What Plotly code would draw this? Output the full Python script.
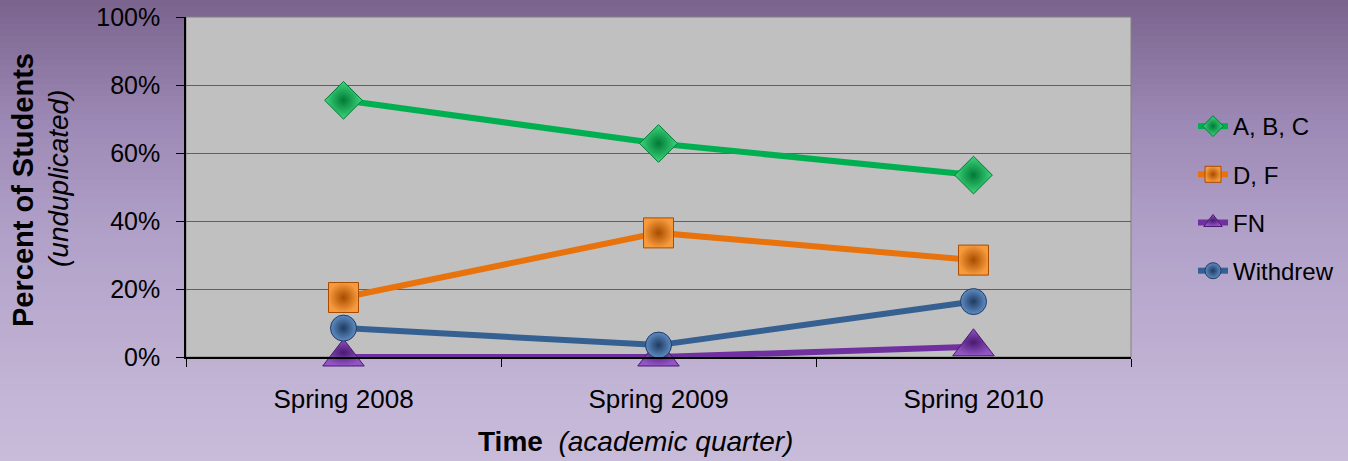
import plotly.graph_objs as go

# ---- Données ----
trimestres = ["Spring 2008", "Spring 2009", "Spring 2010"]
abc = [75.5, 62.8, 53.5]
d_f = [17.5, 36.5, 28.5]
fn = [0, 0, 3]
withdrew = [8.5, 3.5, 16.3]
yticks = [0, 20, 40, 60, 80, 100]
ytick_labels = ["0%", "20%", "40%", "60%", "80%", "100%"]

W, H = 1348, 461
L, R, T, B = 186, 217, 17, 104
FONT = "Liberation Sans, Arial, sans-serif"


def px_to_paper_y(py):
    return (H - B - py) / (H - T - B)


def px_to_paper_x(px):
    return (px - L) / (W - L - R)


# ---- Fond en dégradé (bandes horizontales) ----
stops = [(0, (122, 100, 142)), (120, (156, 136, 180)), (230, (176, 160, 200)),
         (400, (196, 182, 214)), (461, (200, 188, 218))]


def couleur(py):
    for (y0, c0), (y1, c1) in zip(stops[:-1], stops[1:]):
        if y0 <= py <= y1:
            t = (py - y0) / (y1 - y0)
            return "rgb(%d,%d,%d)" % tuple(round(a + (b - a) * t) for a, b in zip(c0, c1))
    return "rgb(%d,%d,%d)" % stops[-1][1]


shapes = []
step = 6
for py in range(0, H, step):
    shapes.append(dict(
        type="rect", xref="paper", yref="paper", layer="below",
        x0=px_to_paper_x(-20), x1=px_to_paper_x(W + 20),
        y0=px_to_paper_y(py + step + 1), y1=px_to_paper_y(py),
        fillcolor=couleur(py + step / 2), line=dict(width=0)))
# zone de tracé grise
shapes.append(dict(type="rect", xref="paper", yref="paper", layer="below",
                   x0=0, x1=1, y0=0, y1=1, fillcolor="#c0c0c0",
                   line=dict(color="#808080", width=1)))

# ---- Traces ----
def serie(nom, valeurs, couleur_ligne, symbole, taille, centre, bord):
    return go.Scatter(
        x=trimestres, y=valeurs, name=nom, mode="lines+markers",
        legendgroup=nom, cliponaxis=False,
        line=dict(color=couleur_ligne, width=6),
        marker=dict(symbol=symbole, size=taille, color=centre,
                    gradient=dict(type="radial", color=bord),
                    line=dict(color=bord, width=1)))


traces = [
    serie("A, B, C", abc, "#00b050", "diamond", 29, "#3ed77c", "#007a36"),
    serie("D, F", d_f, "#e8720c", "square", 30, "#f79a3c", "#a84c00"),
    serie("FN", fn, "#7030a0", "triangle-up", 36, "#9355c4", "#4a1a72"),
    serie("Withdrew", withdrew, "#366092", "circle", 26, "#5f8cc4", "#1e3a60"),
]

# titres des axes (placés à la main comme dans l'original)
annotations = [
    dict(text="<b>Time</b>  <i>(academic quarter)</i>", xref="paper", yref="paper",
         x=px_to_paper_x(635), y=px_to_paper_y(441), xanchor="center", yanchor="middle",
         showarrow=False, font=dict(size=28, family=FONT, color="black")),
    dict(text="<b>Percent of Students</b>", xref="paper", yref="paper", textangle=-90,
         x=px_to_paper_x(23), y=px_to_paper_y(190), xanchor="center", yanchor="middle",
         showarrow=False, font=dict(size=29, family=FONT, color="black")),
    dict(text="<i>(unduplicated)</i>", xref="paper", yref="paper", textangle=-90,
         x=px_to_paper_x(58), y=px_to_paper_y(179), xanchor="center", yanchor="middle",
         showarrow=False, font=dict(size=28, family=FONT, color="black")),
]

layout = go.Layout(
    width=W, height=H, autosize=False,
    margin=dict(l=L, r=R, t=T, b=B, autoexpand=False),
    paper_bgcolor="#b0a0c8",
    plot_bgcolor="rgba(0,0,0,0)",
    font=dict(family=FONT, color="black"),
    shapes=shapes,
    annotations=annotations,
    showlegend=True,
    legend=dict(x=px_to_paper_x(1193), y=px_to_paper_y(104), xanchor="left", yanchor="top",
                font=dict(size=24, family=FONT), bgcolor="rgba(0,0,0,0)",
                traceorder="grouped", tracegroupgap=14),
    xaxis=dict(
        type="category", range=[-0.5, 2.5], tickson="boundaries", automargin=False,
        ticks="outside", ticklen=8, tickcolor="black",
        showline=True, linecolor="black", linewidth=1.5,
        showgrid=False, zeroline=False,
        tickfont=dict(size=26, family=FONT), ticklabelstandoff=18,
    ),
    yaxis=dict(
        range=[0, 100], tickmode="array", tickvals=yticks, ticktext=ytick_labels,
        automargin=False,
        ticks="outside", ticklen=8, tickcolor="black",
        showline=True, linecolor="black", linewidth=1.5,
        showgrid=True, gridcolor="#606060", gridwidth=1, zeroline=False,
        tickfont=dict(size=25, family=FONT), ticklabelstandoff=11,
    ),
)

fig = go.Figure(data=traces, layout=layout)
fig.write_html("out.html", config={"displayModeBar": False},
               post_script="document.body.style.margin='0px';")
